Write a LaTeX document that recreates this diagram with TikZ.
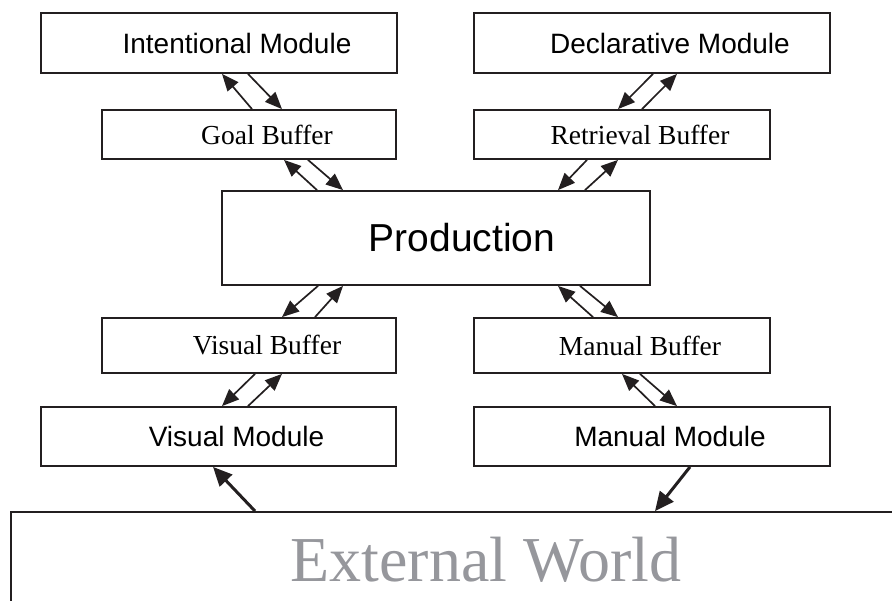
\documentclass[tikz,border=0pt]{standalone}
\usepackage{fontspec}
\setmainfont{Liberation Serif}
\setsansfont{Liberation Sans}
\usetikzlibrary{arrows.meta}

\definecolor{boxline}{RGB}{35,31,32}
\definecolor{worldgray}{RGB}{150,151,156}

\tikzset{
    module/.style={draw=boxline, line width=1.8pt, minimum height=60pt,
        inner sep=0pt, font=\sffamily\fontsize{28}{32}\selectfont,
        execute at begin node={\hspace*{36pt}}},
    buffer/.style={draw=boxline, line width=1.8pt, minimum height=49pt,
        inner sep=0pt, font=\fontsize{27.5}{32}\selectfont,
        execute at begin node={\hspace*{36pt}}},
    link/.style={line width=1.7pt, draw=boxline,
        -{Triangle[length=17pt,width=14pt]}},
    feed/.style={line width=3pt, draw=boxline,
        -{Triangle[length=19pt,width=17pt]}}
}

\begin{document}
\begin{tikzpicture}[x=1pt, y=-1pt]
    \path[use as bounding box, clip] (0,0) rectangle (892,601);

    % modules and buffers
    \node[module, minimum width=356pt] (intent) at (219,43) {Intentional Module};
    \node[module, minimum width=356pt] (decl) at (652,43) {Declarative Module};
    \node[buffer, minimum width=294pt] (goal) at (249,134.5) {Goal Buffer};
    \node[buffer, minimum width=296pt] (retr) at (622,134.5) {Retrieval Buffer};
    \node[draw=boxline, line width=1.8pt, minimum width=428pt, minimum height=94pt,
        inner sep=0pt, font=\sffamily\fontsize{39}{44}\selectfont] (prod) at (436,238)
        {\hspace*{52pt}Production};
    \node[buffer, minimum width=294pt, minimum height=55pt] (visbuf) at (249,345.5) {Visual Buffer};
    \node[buffer, minimum width=296pt, minimum height=55pt] (manbuf) at (622,345.5) {Manual Buffer};
    \node[module, minimum width=355pt, minimum height=59pt] (vismod) at (218.5,436.5) {Visual Module};
    \node[module, minimum width=356pt, minimum height=59pt] (manmod) at (652,436.5) {Manual Module};
    \node[draw=boxline, line width=1.8pt, minimum width=950pt, minimum height=96pt,
        text=worldgray, font=\fontsize{64}{70}\selectfont] (world) at (486,560) {External World};

    % intentional <-> goal
    \draw[link] (goal.north -| 252,0) -- (intent.south -| 222,0);
    \draw[link] (intent.south -| 248,0) -- (goal.north -| 282,0);
    % goal <-> production
    \draw[link] (prod.north -| 317,0) -- (goal.south -| 284,0);
    \draw[link] (goal.south -| 308,0) -- (prod.north -| 343,0);
    % declarative <-> retrieval
    \draw[link] (decl.south -| 653,0) -- (retr.north -| 618,0);
    \draw[link] (retr.north -| 642,0) -- (decl.south -| 677,0);
    % retrieval <-> production
    \draw[link] (retr.south -| 587,0) -- (prod.north -| 558,0);
    \draw[link] (prod.north -| 585,0) -- (retr.south -| 618,0);
    % production <-> visual buffer
    \draw[link] (prod.south -| 318,0) -- (visbuf.north -| 282,0);
    \draw[link] (visbuf.north -| 315,0) -- (prod.south -| 343,0);
    % visual buffer <-> visual module
    \draw[link] (visbuf.south -| 255,0) -- (vismod.north -| 222,0);
    \draw[link] (vismod.north -| 248,0) -- (visbuf.south -| 282,0);
    % production <-> manual buffer
    \draw[link] (manbuf.north -| 593,0) -- (prod.south -| 558,0);
    \draw[link] (prod.south -| 580,0) -- (manbuf.north -| 618,0);
    % manual buffer <-> manual module
    \draw[link] (manmod.north -| 655,0) -- (manbuf.south -| 622,0);
    \draw[link] (manbuf.south -| 640,0) -- (manmod.north -| 677,0);

    % external world
    \draw[feed] (world.north -| 255,0) -- (vismod.south -| 213,0);
    \draw[feed] (manmod.south -| 690,0) -- (world.north -| 655,0);
\end{tikzpicture}
\end{document}
